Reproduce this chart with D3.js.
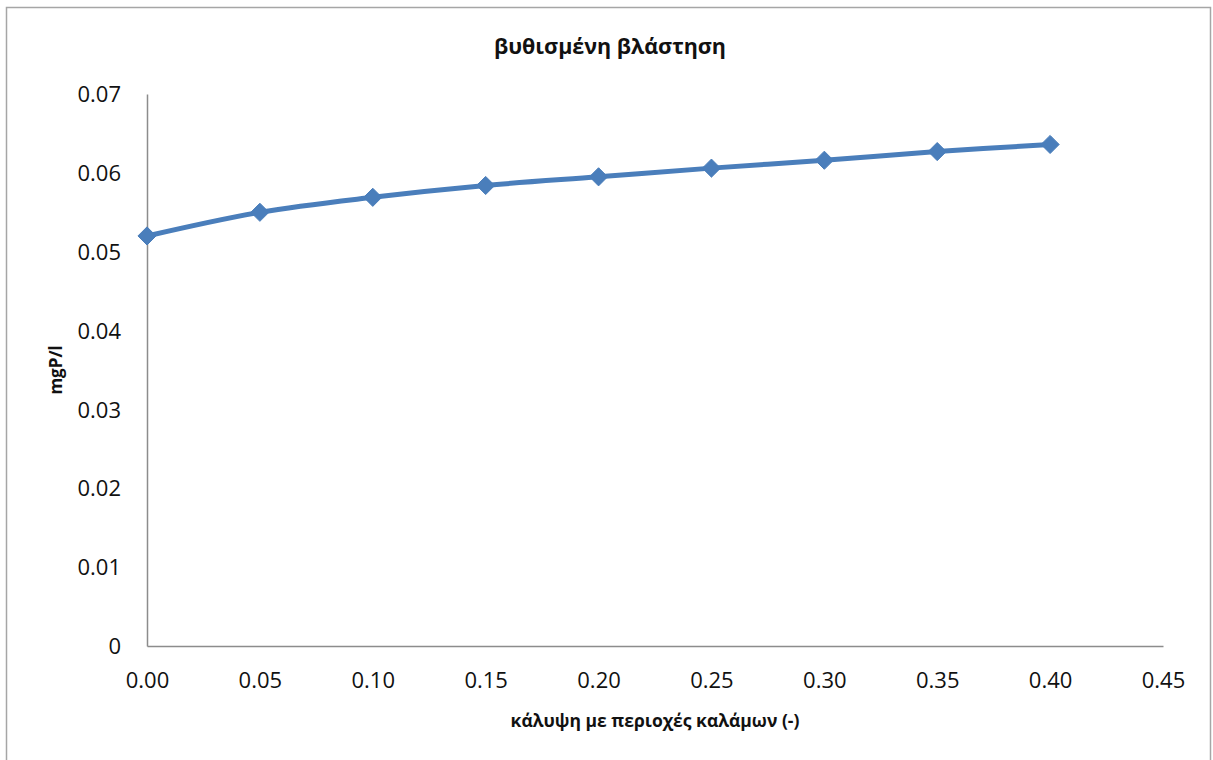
<!DOCTYPE html>
<html>
<head>
<meta charset="utf-8">
<script src="https://cdn.jsdelivr.net/npm/d3@7"></script>
<style>
  html, body { margin: 0; padding: 0; background: #fff; }
  svg { display: block; }
</style>
</head>
<body>
<svg id="chart" width="1213" height="760"></svg>
<script>
const title = "βυθισμένη βλάστηση";
const xTitle = "κάλυψη με περιοχές καλάμων (-)";
const yTitle = "mgP/l";
const xValues = [0.00, 0.05, 0.10, 0.15, 0.20, 0.25, 0.30, 0.35, 0.40];
const yValues = [0.0520, 0.0550, 0.0569, 0.0584, 0.0595, 0.0606, 0.0616, 0.0627, 0.0636];
const xTicks = [0, 0.05, 0.10, 0.15, 0.20, 0.25, 0.30, 0.35, 0.40, 0.45];
const yTicks = [0, 0.01, 0.02, 0.03, 0.04, 0.05, 0.06, 0.07];

const svg = d3.select("#chart");
const font = "'Open Sans', 'Noto Sans', sans-serif";
const color = "#4a7ebb";

// chart frame
svg.append("rect").attr("x", 6.5).attr("y", 7.5).attr("width", 1204).attr("height", 760)
  .attr("fill", "#fff").attr("stroke", "#a6a6a6").attr("stroke-width", 1.5);

const x = d3.scaleLinear().domain([0, 0.45]).range([147, 1163]);
const y = d3.scaleLinear().domain([0, 0.07]).range([646, 94]);

// axes
const xAxis = svg.append("g").attr("transform", `translate(0,${y(0)})`)
  .call(d3.axisBottom(x).tickValues(xTicks).tickFormat(d3.format(".2f")).tickSize(0).tickPadding(26));
const yAxis = svg.append("g").attr("transform", `translate(${x(0)},0)`)
  .call(d3.axisLeft(y).tickValues(yTicks).tickFormat(d => d === 0 ? "0" : d3.format(".2f")(d)).tickSize(0).tickPadding(26));

[xAxis, yAxis].forEach(g => {
  g.select(".domain").attr("stroke", "#8c8c8c").attr("stroke-width", 1.5);
  g.selectAll("text").attr("font-family", font).attr("font-size", 22).attr("fill", "#111");
});
yAxis.selectAll("text").attr("dy", "0.35em");

// line
const line = d3.line().x((d, i) => x(xValues[i])).y(d => y(d)).curve(d3.curveCatmullRom.alpha(0.5));
svg.append("path").datum(yValues).attr("d", line)
  .attr("fill", "none").attr("stroke", color).attr("stroke-width", 5).attr("stroke-linejoin", "round");

// markers
svg.selectAll(".pt").data(yValues).enter().append("path")
  .attr("class", "pt")
  .attr("transform", (d, i) => `translate(${x(xValues[i])},${y(d)})`)
  .attr("d", d3.symbol().type(d3.symbolDiamond2).size(210))
  .attr("fill", color).attr("stroke", color).attr("stroke-width", 1);

// titles
svg.append("text").attr("x", 610).attr("y", 54).attr("text-anchor", "middle")
  .attr("font-family", font).attr("font-weight", "bold").attr("font-size", 21.5).attr("fill", "#111")
  .text(title);
svg.append("text").attr("x", 655).attr("y", 727).attr("text-anchor", "middle")
  .attr("font-family", font).attr("font-weight", "bold").attr("font-size", 17.5).attr("fill", "#111")
  .text(xTitle);
svg.append("text").attr("transform", "translate(62,370) rotate(-90)").attr("text-anchor", "middle")
  .attr("font-family", font).attr("font-weight", "bold").attr("font-size", 17).attr("fill", "#111")
  .text(yTitle);
</script>
</body>
</html>
